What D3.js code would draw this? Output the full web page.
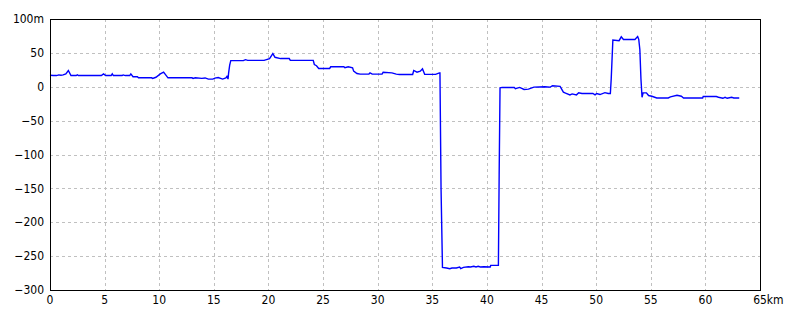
<!DOCTYPE html>
<html lang="ja">
    <head>
        <meta charset="utf-8">
        <title>Elevation profile</title>
        <script src="https://d3js.org/d3.v7.min.js"></script>
        <style type="text/css">
            body { margin: 0; background: #fff; }
            .grid line {
                stroke: #c0c0c0;
                stroke-dasharray: 3,3;
                shape-rendering: crispEdges;
            }
            .lbl {
                font-family: "Liberation Sans Narrow", "DejaVu Sans Condensed", sans-serif;
                font-size: 12px;
                fill: #000;
            }
            .profile {
                fill: none;
                stroke: #0000ff;
                stroke-width: 1.4px;
                stroke-linejoin: miter;
            }
        </style>
    </head>
    <body>
        <script type="text/javascript">

            //canvas
            const w = 800;
            const h = 320;
            const padL = 50, padT = 19, padR = 760, padB = 290;

            //distance (km) and elevation (m)
            const dist = [0, 0.3, 0.6, 0.8, 1.0, 1.2, 1.45, 1.68, 1.92, 2.4, 2.5, 2.6,
                4.7, 4.9, 5.1, 5.6, 5.7, 5.8, 6.6, 6.7, 6.9, 7.3, 7.4, 7.6, 8.0, 8.1,
                9.3, 9.4, 9.7, 10.1, 10.4, 10.8, 13.0, 13.1, 13.3, 13.9, 14.2, 14.5,
                14.9, 15.1, 15.4, 15.8, 16.1, 16.2, 16.3, 16.35, 16.45, 16.55, 17.7,
                17.9, 18.1, 19.6, 20.1, 20.4, 20.6, 21.1, 21.9, 22.0, 24.1, 24.2, 24.4,
                24.6, 25.6, 25.7, 26.9, 27.0, 27.3, 27.7, 27.8, 28.1, 28.4, 29.2, 29.3,
                29.5, 30.4, 30.5, 31.3, 31.7, 32.0, 33.2, 33.3, 33.6, 33.9, 34.1, 34.3,
                35.3, 35.65, 35.7, 35.8, 35.93, 36.3, 36.6, 36.8, 37.2, 37.5, 37.6,
                37.85, 38.3, 38.5, 38.8, 39.0, 39.2, 39.4, 39.7, 40.3, 40.35, 41.05,
                41.12, 41.2, 41.4, 42.5, 42.6, 43.0, 43.4, 43.8, 44.3, 45.3, 45.8, 46.0,
                46.7, 47.0, 47.2, 47.6, 47.8, 48.2, 48.4, 48.7, 49.7, 49.9, 50.05, 50.35,
                50.8, 51.1, 51.3, 51.38, 51.53, 52.1, 52.3, 52.5, 53.55, 53.8, 53.9,
                54.0, 54.1, 54.2, 54.3, 54.6, 54.8, 55.1, 55.55, 56.6, 56.8, 57.4, 57.8,
                58.0, 59.75, 59.8, 61.0, 61.2, 61.6, 61.8, 62.0, 62.4, 62.6, 63.1];
            const elev = [17, 16.5, 16.5, 17.5, 17, 17.5, 19, 24, 16.5, 16.5, 17.7, 16.5,
                16.5, 19, 16.5, 16.5, 19, 16.5, 16.5, 17.5, 16.5, 16.5, 19, 14.7, 14.7, 13.2,
                13.2, 12.3, 14, 19, 21.5, 13.2, 13.2, 12.3, 13.2, 12.3, 13, 11.3,
                11.3, 12.7, 13.6, 11.3, 13, 15.3, 11.3, 20, 32, 38.5, 38.5,
                40, 39, 39, 41.6, 49, 43.5, 41.6, 41.6, 39, 39, 32.8, 31,
                27, 27, 29.5, 29.5, 28, 29.5, 28, 23, 19.5, 18.7, 18.7, 20.5,
                18.7, 18.7, 21.5, 20.5, 18.7, 18, 18, 24, 21.5, 23, 26.5, 18.3,
                18.3, 20.5, 20.5, -150, -266.6, -267.5, -268.5, -267.5, -267.5, -266, -268.5,
                -266.6, -265.6, -266, -265, -266, -265, -266, -265.6, -266, -263.7, -263.7,
                -130, -1.6, -1, -1, -3, -1, -4, -3.5, -0.5, 0, -0.5, 1.5,
                0.5, -8, -9.5, -12, -10.5, -12, -9, -10, -10, -12, -10, -11.5,
                -8.7, -10, -10, 12, 69, 68, 73.7, 69.7, 69.7, 74, 70,
                55, 11.7, -15.5, -9, -9, -13, -14, -16.5, -16.5, -15, -12.5, -14,
                -16.5, -16.5, -14.5, -14.5, -15.5, -17, -15.5, -17, -15.5, -16.5, -16.5];

            //tick values
            const xTicks = [0, 5, 10, 15, 20, 25, 30, 35, 40, 45, 50, 55, 60, 65];
            const yTicks = [100, 50, 0, -50, -100, -150, -200, -250, -300];

            const points = dist.map((d, i) => ({km: d, m: elev[i]}));

            //scales
            const xScale = d3.scaleLinear()
                .domain([0, 65])
                .range([padL, padR]);

            const yScale = d3.scaleLinear()
                .domain([-300, 100])
                .range([padB, padT]);

            const svg = d3.select("body")
                .append("svg")
                .attr("width", w)
                .attr("height", h);

            //grid
            const grid = svg.append("g").attr("class", "grid");

            grid.selectAll(".vx")
                .data(xTicks.slice(1, -1))
                .join("line")
                .attr("x1", d => Math.round(xScale(d)) + 0.5)
                .attr("x2", d => Math.round(xScale(d)) + 0.5)
                .attr("y1", padT)
                .attr("y2", padB);

            grid.selectAll(".hy")
                .data(yTicks.slice(1, -1))
                .join("line")
                .attr("x1", padL)
                .attr("x2", padR)
                .attr("y1", d => Math.round(yScale(d)) + 0.5)
                .attr("y2", d => Math.round(yScale(d)) + 0.5);

            //profile line
            const line = d3.line()
                .x(d => xScale(d.km))
                .y(d => yScale(d.m));

            svg.append("path")
                .datum(points)
                .attr("class", "profile")
                .attr("d", line);

            //frame
            svg.append("rect")
                .attr("x", padL + 0.5)
                .attr("y", padT + 0.5)
                .attr("width", padR - padL)
                .attr("height", padB - padT)
                .attr("fill", "none")
                .attr("stroke", "#000")
                .attr("stroke-width", 1.2)
                .attr("shape-rendering", "crispEdges");

            //y labels
            svg.selectAll(".ylbl")
                .data(yTicks)
                .join("text")
                .attr("class", "lbl")
                .attr("x", padL - 6)
                .attr("y", d => yScale(d))
                .attr("dy", "0.35em")
                .attr("text-anchor", "end")
                .text(d => d === 100 ? "100m" : d3.format("")(d));

            //x labels
            svg.selectAll(".xlbl")
                .data(xTicks)
                .join("text")
                .attr("class", "lbl")
                .attr("x", d => xScale(d))
                .attr("y", padB + 14)
                .attr("text-anchor", "middle")
                .text(d => d);

            //unit after the last tick
            const last = svg.selectAll(".lbl").filter(d => d === 65).node();
            svg.append("text")
                .attr("class", "lbl")
                .attr("x", xScale(65) + last.getComputedTextLength() / 2)
                .attr("y", padB + 14)
                .text("km");

        </script>
    </body>
</html>
